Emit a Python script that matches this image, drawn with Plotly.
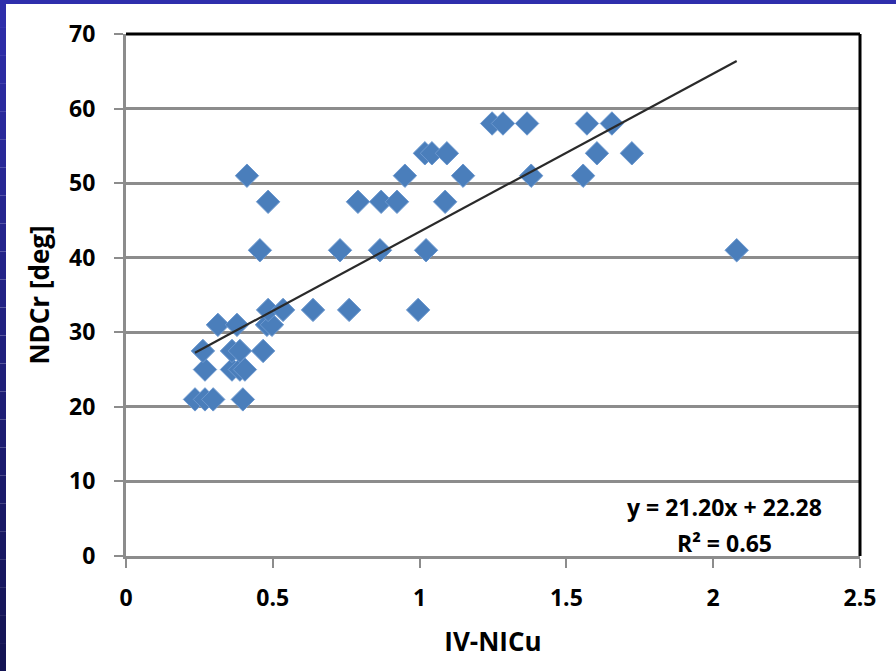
import plotly.graph_objects as go

# ---- data ----
y21_x = [0.235, 0.269, 0.297, 0.398]
y25_x = [0.269, 0.361, 0.388, 0.405]
y275_x = [0.262, 0.361, 0.388, 0.467]
y31_x = [0.313, 0.378, 0.480, 0.497]
y33_x = [0.484, 0.535, 0.637, 0.760, 0.995]
y41_x = [0.456, 0.729, 0.865, 1.022, 2.080]
y475_x = [0.484, 0.790, 0.869, 0.923, 1.087]
y51_x = [0.412, 0.950, 1.148, 1.380, 1.557]
y54_x = [1.018, 1.042, 1.093, 1.604, 1.723]
y58_x = [1.247, 1.284, 1.366, 1.570, 1.655]
levels = [21, 25, 27.5, 31, 33, 41, 47.5, 51, 54, 58]
groups = [y21_x, y25_x, y275_x, y31_x, y33_x, y41_x, y475_x, y51_x, y54_x, y58_x]

slope = 21.20
intercept = 22.28
r2 = 0.65

x_ticks = [0, 0.5, 1, 1.5, 2, 2.5]
x_tick_text = ["0", "0.5", "1", "1.5", "2", "2.5"]
y_ticks = [0, 10, 20, 30, 40, 50, 60, 70]

xs, ys = [], []
for lv, g in zip(levels, groups):
    for v in g:
        xs.append(v)
        ys.append(lv)

W, H = 896, 671
ML, MR, MT, MB = 126, 36, 34, 115
PW = W - ML - MR
PH = H - MT - MB

fig = go.Figure()
fig.add_trace(go.Scatter(
    x=xs, y=ys, mode="markers",
    marker=dict(symbol="diamond", size=18, color="#4A7EBB",
                line=dict(color="#6C98CF", width=1)),
    showlegend=False, hoverinfo="x+y"))

x0, x1 = min(xs), max(xs)
fig.add_trace(go.Scatter(
    x=[x0, x1], y=[slope * x0 + intercept, slope * x1 + intercept],
    mode="lines", line=dict(color="#2a2a2a", width=2.2),
    showlegend=False))

FF = "Open Sans"
tickfont = dict(family=FF, size=23, color="black", weight="bold")
titlefont = dict(family=FF, size=26, color="black", weight="bold")

fig.update_xaxes(range=[0, 2.5], tickvals=x_ticks, ticktext=x_tick_text,
                 showgrid=False, zeroline=False,
                 showline=True, linecolor="#8C8C8C", linewidth=3,
                 ticks="outside", ticklen=9, tickwidth=2, tickcolor="#8C8C8C",
                 ticklabelstandoff=10,
                 tickfont=tickfont,
                 title=dict(text="IV-NICu", font=titlefont, standoff=22))
fig.update_yaxes(range=[0, 70], tickvals=y_ticks,
                 showgrid=True, gridcolor="#8C8C8C", gridwidth=3, zeroline=False,
                 showline=True, linecolor="#8C8C8C", linewidth=3,
                 ticks="outside", ticklen=9, tickwidth=2, tickcolor="#8C8C8C",
                 ticklabelstandoff=14,
                 tickfont=tickfont,
                 title=dict(text="NDCr [deg]", font=titlefont, standoff=12))

shapes = []
shapes.append(dict(type="line", xref="paper", yref="paper", x0=0, x1=1, y0=1, y1=1,
                   line=dict(color="black", width=3), layer="above"))
shapes.append(dict(type="line", xref="paper", yref="paper", x0=1, x1=1, y0=0, y1=1,
                   line=dict(color="black", width=3), layer="above"))
fx0 = -ML / PW
fy0 = -MB / PH
fy1 = 1 + MT / PH
left_w = 6 / PW
top_h = 4 / PH
n = 24
c_top = (46, 46, 170)
c_bot = (20, 20, 84)
for i in range(n):
    t = i / (n - 1)
    c = tuple(int(c_top[k] + (c_bot[k] - c_top[k]) * t) for k in range(3))
    ya = fy1 - (fy1 - fy0) * i / n
    yb = fy1 - (fy1 - fy0) * (i + 1) / n
    shapes.append(dict(type="rect", xref="paper", yref="paper",
                       x0=fx0, x1=fx0 + left_w, y0=yb, y1=ya,
                       fillcolor="rgb(%d,%d,%d)" % c, line=dict(width=0), layer="above"))
shapes.append(dict(type="rect", xref="paper", yref="paper",
                   x0=fx0, x1=1 + MR / PW, y0=fy1 - top_h, y1=fy1,
                   fillcolor="rgb(46,46,172)", line=dict(width=0), layer="above"))

eq1 = "y = %.2fx + %.2f" % (slope, intercept)
eq2 = "R² = %.2f" % r2
eqfont = dict(family=FF, size=23, color="black", weight="bold")

fig.update_layout(
    width=W, height=H,
    margin=dict(l=ML, r=MR, t=MT, b=MB),
    paper_bgcolor="white", plot_bgcolor="white",
    shapes=shapes,
    annotations=[
        dict(x=2.04, y=6.6, xref="x", yref="y", text=eq1, showarrow=False,
             font=eqfont, xanchor="center", yanchor="middle"),
        dict(x=2.04, y=1.75, xref="x", yref="y", text=eq2, showarrow=False,
             font=eqfont, xanchor="center", yanchor="middle"),
    ],
)

fig.write_html("out.html")
